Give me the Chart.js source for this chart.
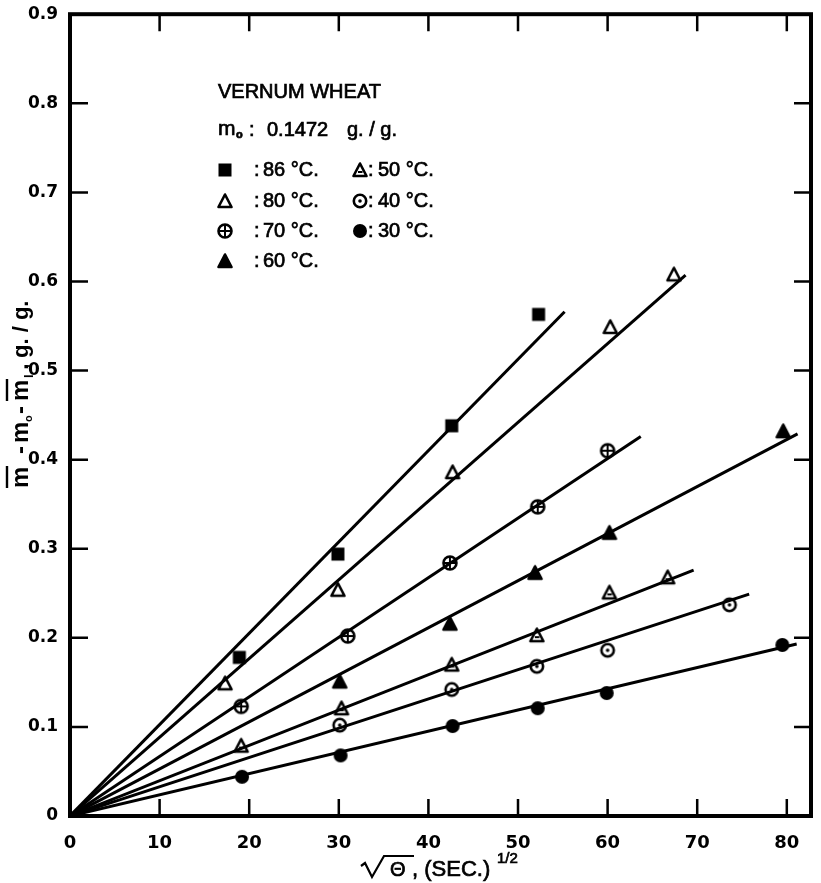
<!DOCTYPE html>
<html>
<head>
<meta charset="utf-8">
<script src="https://cdn.jsdelivr.net/npm/chart.js@4.4.1/dist/chart.umd.min.js"></script>
<style>
  html, body { margin: 0; padding: 0; background: #fff; }
  #wrap { width: 821px; height: 883px; }
</style>
</head>
<body>
<div id="wrap"><canvas id="chart" width="821" height="883"></canvas></div>
<script>
// temperatures, deg C
const temps = ['86', '80', '70', '60', '50', '40', '30'];

// measured points: sqrt(theta) (sec^1/2) and m - m0 - mL (g./g.)
const x86 = [18.9, 29.9, 42.6, 52.3];
const y86 = [0.178, 0.294, 0.438, 0.563];
const x80 = [17.3, 29.9, 42.7, 60.3, 67.4];
const y80 = [0.149, 0.254, 0.386, 0.549, 0.608];
const x70 = [19.1, 31.0, 42.4, 52.2, 60.0];
const y70 = [0.123, 0.202, 0.284, 0.347, 0.410];
const x60 = [30.1, 42.4, 51.9, 60.2, 79.6];
const y60 = [0.151, 0.216, 0.273, 0.318, 0.432];
const x50 = [19.1, 30.3, 42.6, 52.1, 60.2, 66.7];
const y50 = [0.079, 0.121, 0.170, 0.203, 0.251, 0.268];
const x40 = [30.1, 42.6, 52.1, 60.0, 73.6];
const y40 = [0.102, 0.142, 0.168, 0.186, 0.237];
const x30 = [19.2, 30.2, 42.7, 52.2, 59.9, 79.5];
const y30 = [0.044, 0.068, 0.101, 0.121, 0.138, 0.192];

// fitted straight lines, all starting at the origin: end points
const lineEndX = [55.2, 68.7, 63.7, 81.2, 69.6, 75.8, 81.1];
const lineEndY = [0.566, 0.607, 0.426, 0.429, 0.276, 0.249, 0.193];

// axes
const xTicks = [0, 10, 20, 30, 40, 50, 60, 70, 80];
const yTicks = [0, 0.1, 0.2, 0.3, 0.4, 0.5, 0.6, 0.7, 0.8, 0.9];

const xsAll = [x86, x80, x70, x60, x50, x40, x30];
const ysAll = [y86, y80, y70, y60, y50, y40, y30];
const markerKinds = ['square', 'triangle', 'crossCircle', 'filledTriangle', 'barTriangle', 'dotCircle', 'disc'];

/**
 * Builds a small canvas used as a point style for one marker kind.
 */
function makeMarker(kind) {
    const s = 18;
    const c = document.createElement('canvas');
    c.width = s;
    c.height = s;
    const g = c.getContext('2d');
    g.strokeStyle = '#000';
    g.fillStyle = '#000';
    g.lineWidth = 2.6;
    g.lineJoin = 'round';
    const tri = () => {
        g.beginPath();
        g.moveTo(9, 2.5);
        g.lineTo(15.5, 15);
        g.lineTo(2.5, 15);
        g.closePath();
    };
    if (kind === 'square') {
        g.fillRect(2.5, 2.5, 13, 13);
    } else if (kind === 'triangle') {
        tri();
        g.stroke();
    } else if (kind === 'filledTriangle') {
        tri();
        g.fill();
        g.stroke();
    } else if (kind === 'barTriangle') {
        tri();
        g.stroke();
        g.lineWidth = 2;
        g.beginPath();
        g.moveTo(7, 11);
        g.lineTo(11.5, 11);
        g.stroke();
    } else if (kind === 'crossCircle') {
        g.beginPath();
        g.arc(9, 9, 6.5, 0, Math.PI * 2);
        g.stroke();
        g.lineWidth = 2;
        g.beginPath();
        g.moveTo(9, 2.5); g.lineTo(9, 15.5);
        g.moveTo(2.5, 9); g.lineTo(15.5, 9);
        g.stroke();
    } else if (kind === 'dotCircle') {
        g.beginPath();
        g.arc(9, 9, 6.2, 0, Math.PI * 2);
        g.stroke();
        g.beginPath();
        g.arc(9, 9, 1.8, 0, Math.PI * 2);
        g.fill();
    } else {
        g.beginPath();
        g.arc(9, 9, 7, 0, Math.PI * 2);
        g.fill();
    }
    return c;
}

const markers = markerKinds.map(makeMarker);

const lineSets = temps.map((t, i) => ({
    label: t + ' fit',
    data: [{ x: 0, y: 0 }, { x: lineEndX[i], y: lineEndY[i] }],
    showLine: true,
    borderColor: '#000',
    borderWidth: 3,
    pointRadius: 0,
    tension: 0
}));

const pointSets = temps.map((t, i) => ({
    label: t + ' C',
    data: xsAll[i].map((x, j) => ({ x: x, y: ysAll[i][j] })),
    showLine: false,
    pointStyle: markers[i],
    pointRadius: 9
}));

// heavy text, like the scanned lettering
function heavyText(ctx, str, x, y) {
    ctx.fillText(str, x, y);
    ctx.strokeText(str, x, y);
}

// Frame, inward ticks, annotation block and axis titles
const decorations = {
    id: 'decorations',
    afterDraw(chart) {
        const ctx = chart.ctx;
        const area = chart.chartArea;
        const xs = chart.scales.x;
        const ys = chart.scales.y;
        ctx.save();
        ctx.strokeStyle = '#000';
        ctx.fillStyle = '#000';

        // frame
        ctx.lineWidth = 4;
        ctx.strokeRect(area.left, area.top, area.right - area.left, area.bottom - area.top);

        // inward ticks
        ctx.lineWidth = 2.5;
        ctx.beginPath();
        xTicks.slice(1).forEach(v => {
            const px = xs.getPixelForValue(v);
            ctx.moveTo(px, area.bottom);
            ctx.lineTo(px, area.bottom - 17);
            ctx.moveTo(px, area.top);
            ctx.lineTo(px, area.top + 17);
        });
        yTicks.slice(1, -1).forEach(v => {
            const py = ys.getPixelForValue(v);
            ctx.moveTo(area.left, py);
            ctx.lineTo(area.left + 18, py);
            ctx.moveTo(area.right, py);
            ctx.lineTo(area.right - 17, py);
        });
        ctx.stroke();

        // annotation block
        ctx.lineWidth = 0.7;
        ctx.textBaseline = 'middle';
        ctx.textAlign = 'left';
        ctx.font = '20px "Liberation Sans", Arial, sans-serif';
        heavyText(ctx, 'VERNUM WHEAT', 218, 92);
        ctx.font = '21px "Liberation Sans", Arial, sans-serif';
        heavyText(ctx, 'm', 218, 129);
        ctx.font = 'bold 11px "Liberation Sans", Arial, sans-serif';
        heavyText(ctx, 'o', 236, 135);
        ctx.font = '20px "Liberation Sans", Arial, sans-serif';
        heavyText(ctx, ':', 249, 130);
        heavyText(ctx, '0.1472', 267, 130);
        heavyText(ctx, 'g. / g.', 347, 130);

        const rowsY = [170, 201, 231, 261];
        const col1 = [0, 1, 2, 3];
        const col2 = [4, 5, 6];
        col1.forEach((k, r) => {
            ctx.drawImage(markers[k], 216, rowsY[r] - 9);
            heavyText(ctx, ':', 254, rowsY[r]);
            heavyText(ctx, temps[k] + ' \u00B0C.', 263, rowsY[r]);
        });
        col2.forEach((k, r) => {
            ctx.drawImage(markers[k], 351, rowsY[r] - 9);
            heavyText(ctx, ':', 368, rowsY[r]);
            heavyText(ctx, temps[k] + ' \u00B0C.', 378, rowsY[r]);
        });

        // x axis title: radical over theta, then (SEC.)^1/2
        ctx.textBaseline = 'alphabetic';
        ctx.lineWidth = 2.2;
        ctx.beginPath();
        ctx.moveTo(361, 866);
        ctx.lineTo(365, 863);
        ctx.lineTo(372, 877);
        ctx.lineTo(384, 856);
        ctx.lineTo(414, 856);
        ctx.stroke();
        ctx.lineWidth = 0.7;
        ctx.font = '20px "Liberation Sans", Arial, sans-serif';
        heavyText(ctx, '\u0398', 390, 876);
        ctx.font = '22px "Liberation Sans", Arial, sans-serif';
        heavyText(ctx, ', (SEC.)', 412, 876);
        ctx.font = '15px "Liberation Sans", Arial, sans-serif';
        heavyText(ctx, '1/2', 497, 863);

        // y axis title, rotated
        ctx.translate(28, 490);
        ctx.rotate(-Math.PI / 2);
        ctx.font = 'bold 24px "Liberation Sans", Arial, sans-serif';
        ctx.fillText('m', 2, 0);
        ctx.fillText('-', 36, 0);
        ctx.fillText('m', 47, 0);
        ctx.fillText('-', 76, 0);
        ctx.fillText('m', 89, 0);
        ctx.fillText(',', 120, 0);
        ctx.font = 'bold 22px "Liberation Sans", Arial, sans-serif';
        ctx.fillText('g. / g.', 132, 0);
        ctx.font = 'bold 11px "Liberation Sans", Arial, sans-serif';
        ctx.fillText('o', 68, 4);
        ctx.font = 'bold 13px "Liberation Sans", Arial, sans-serif';
        ctx.fillText('l', 112, 5);
        ctx.lineWidth = 2.4;
        ctx.beginPath();
        ctx.moveTo(2, -21); ctx.lineTo(24, -21);
        ctx.moveTo(89, -21); ctx.lineTo(111, -21);
        ctx.stroke();
        ctx.restore();
    }
};

new Chart(document.getElementById('chart'), {
    type: 'scatter',
    data: { datasets: lineSets.concat(pointSets) },
    options: {
        responsive: false,
        animation: false,
        devicePixelRatio: 1,
        layout: { padding: { top: 9, right: 5, left: 0, bottom: 0 } },
        plugins: { legend: { display: false }, tooltip: { enabled: false } },
        scales: {
            x: {
                type: 'linear',
                min: 0,
                max: 82.7,
                grid: { display: false },
                border: { display: false },
                ticks: {
                    color: '#000',
                    font: { family: '"DejaVu Sans", sans-serif', size: 18, weight: 'bold' },
                    padding: 9,
                    maxRotation: 0,
                    autoSkip: false
                },
                afterBuildTicks: s => { s.ticks = xTicks.map(v => ({ value: v })); },
                afterFit: s => { s.height = 67; }
            },
            y: {
                type: 'linear',
                min: 0,
                max: 0.9,
                grid: { display: false },
                border: { display: false },
                ticks: {
                    color: '#000',
                    font: { family: '"DejaVu Sans", sans-serif', size: 17, weight: 'bold' },
                    padding: 4,
                    autoSkip: false,
                    callback: v => (v === 0 ? '0' : v.toFixed(1))
                },
                afterBuildTicks: s => { s.ticks = yTicks.map(v => ({ value: v })); },
                afterFit: s => { s.width = 70; }
            }
        }
    },
    plugins: [decorations]
});
</script>
</body>
</html>
